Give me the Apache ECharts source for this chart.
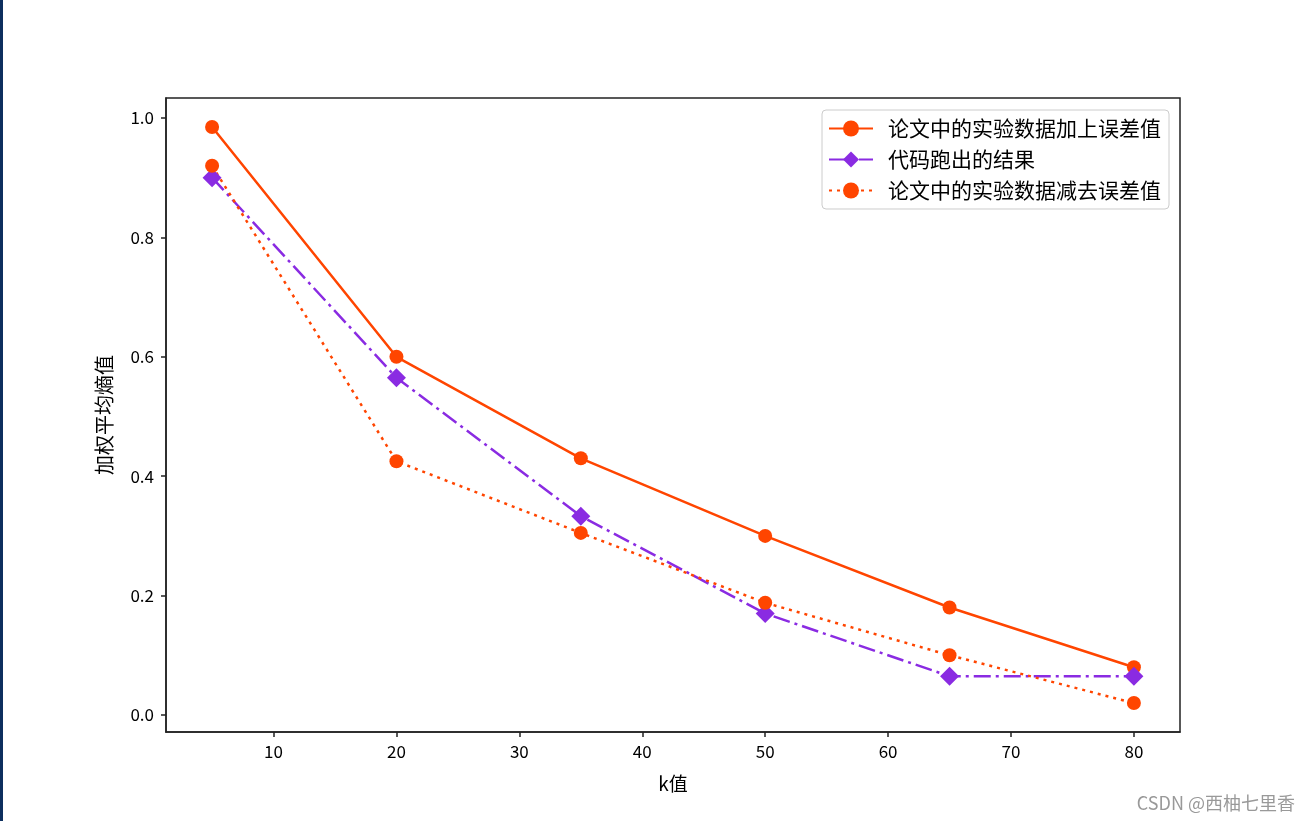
<!DOCTYPE html>
<html>
<head>
<meta charset="utf-8">
<script src="https://cdn.jsdelivr.net/npm/echarts@6/dist/echarts.min.js"></script>
<style>
  html, body { margin: 0; padding: 0; background: #fff; }
  #container { width: 1310px; height: 821px; }
</style>
</head>
<body>
<div id="container"></div>
<script>
// data
var kValues = [5, 20, 35, 50, 65, 80];
var plusErr = [0.985, 0.60, 0.43, 0.30, 0.18, 0.08];
var codeResult = [0.90, 0.565, 0.333, 0.17, 0.065, 0.065];
var minusErr = [0.92, 0.425, 0.305, 0.188, 0.10, 0.02];
var xTicks = [10, 20, 30, 40, 50, 60, 70, 80];
var yTicks = [0, 0.2, 0.4, 0.6, 0.8, 1.0];
var seriesNames = ['论文中的实验数据加上误差值', '代码跑出的结果', '论文中的实验数据减去误差值'];

var FONT = '"Noto Sans CJK SC", "DejaVu Sans", sans-serif';

function pairs(ys) {
  return kValues.map(function (k, i) { return [k, ys[i]]; });
}

var dom = document.getElementById('container');
var myChart = echarts.init(dom, null, { renderer: 'canvas' });

var option = {
  backgroundColor: '#fff',
  animation: false,
  grid: {
    left: 166, top: 98, width: 1014, height: 634,
    show: true, borderColor: '#222', borderWidth: 1.5, backgroundColor: 'transparent'
  },
  legend: {
    orient: 'vertical',
    right: 141,
    top: 110,
    padding: [8, 8, 8, 6],
    itemGap: 10,
    itemWidth: 44,
    itemHeight: 20,
    borderColor: '#ccc',
    borderWidth: 1,
    borderRadius: 4,
    backgroundColor: '#fff',
    textStyle: { fontFamily: FONT, fontSize: 21, color: '#000', padding: [0, 0, 0, 10] },
    data: seriesNames
  },
  xAxis: {
    type: 'value',
    min: 1.25,
    max: 83.75,
    name: 'k值',
    nameLocation: 'middle',
    nameGap: 42,
    nameTextStyle: { fontFamily: FONT, fontSize: 19, color: '#000' },
    axisLine: { show: true, onZero: false, lineStyle: { color: '#222', width: 1.5 } },
    axisTick: { show: true, inside: false, length: 5, customValues: xTicks, lineStyle: { color: '#222', width: 1.5 } },
    axisLabel: { customValues: xTicks, margin: 11, fontFamily: FONT, fontSize: 17, color: '#000' },
    splitLine: { show: false }
  },
  yAxis: {
    type: 'value',
    min: -0.0285,
    max: 1.0335,
    name: '加权平均熵值',
    nameLocation: 'middle',
    nameGap: 52,
    nameTextStyle: { fontFamily: FONT, fontSize: 20, color: '#000' },
    axisLine: { show: true, onZero: false, lineStyle: { color: '#222', width: 1.5 } },
    axisTick: { show: true, inside: false, length: 5, customValues: yTicks, lineStyle: { color: '#222', width: 1.5 } },
    axisLabel: {
      customValues: yTicks, margin: 12, fontFamily: FONT, fontSize: 17, color: '#000',
      formatter: function (v) { return v.toFixed(1); }
    },
    splitLine: { show: false }
  },
  series: [
    {
      name: seriesNames[0],
      type: 'line',
      data: pairs(plusErr),
      symbol: 'circle',
      symbolSize: 14,
      color: '#FF4500',
      lineStyle: { color: '#FF4500', width: 2.5, type: 'solid' },
      itemStyle: { color: '#FF4500' }
    },
    {
      name: seriesNames[1],
      type: 'line',
      data: pairs(codeResult),
      symbol: 'diamond',
      symbolSize: 19,
      color: '#8A2BE2',
      lineStyle: { color: '#8A2BE2', width: 2.5, type: [17, 5, 3, 5] },
      itemStyle: { color: '#8A2BE2' }
    },
    {
      name: seriesNames[2],
      type: 'line',
      data: pairs(minusErr),
      symbol: 'circle',
      symbolSize: 14,
      color: '#FF4500',
      lineStyle: { color: '#FF4500', width: 2.5, type: [3, 5] },
      itemStyle: { color: '#FF4500' }
    }
  ],
  graphic: [
    { type: 'rect', left: 0, top: 0, shape: { width: 3, height: 821 }, style: { fill: '#0d2f5e' } },
    {
      type: 'text', right: 15, bottom: 9,
      style: { text: 'CSDN @西柚七里香', fill: '#999', font: '18px ' + FONT }
    }
  ]
};

myChart.setOption(option);

window.addEventListener('resize', function () {
  myChart.resize();
});
</script>
</body>
</html>
